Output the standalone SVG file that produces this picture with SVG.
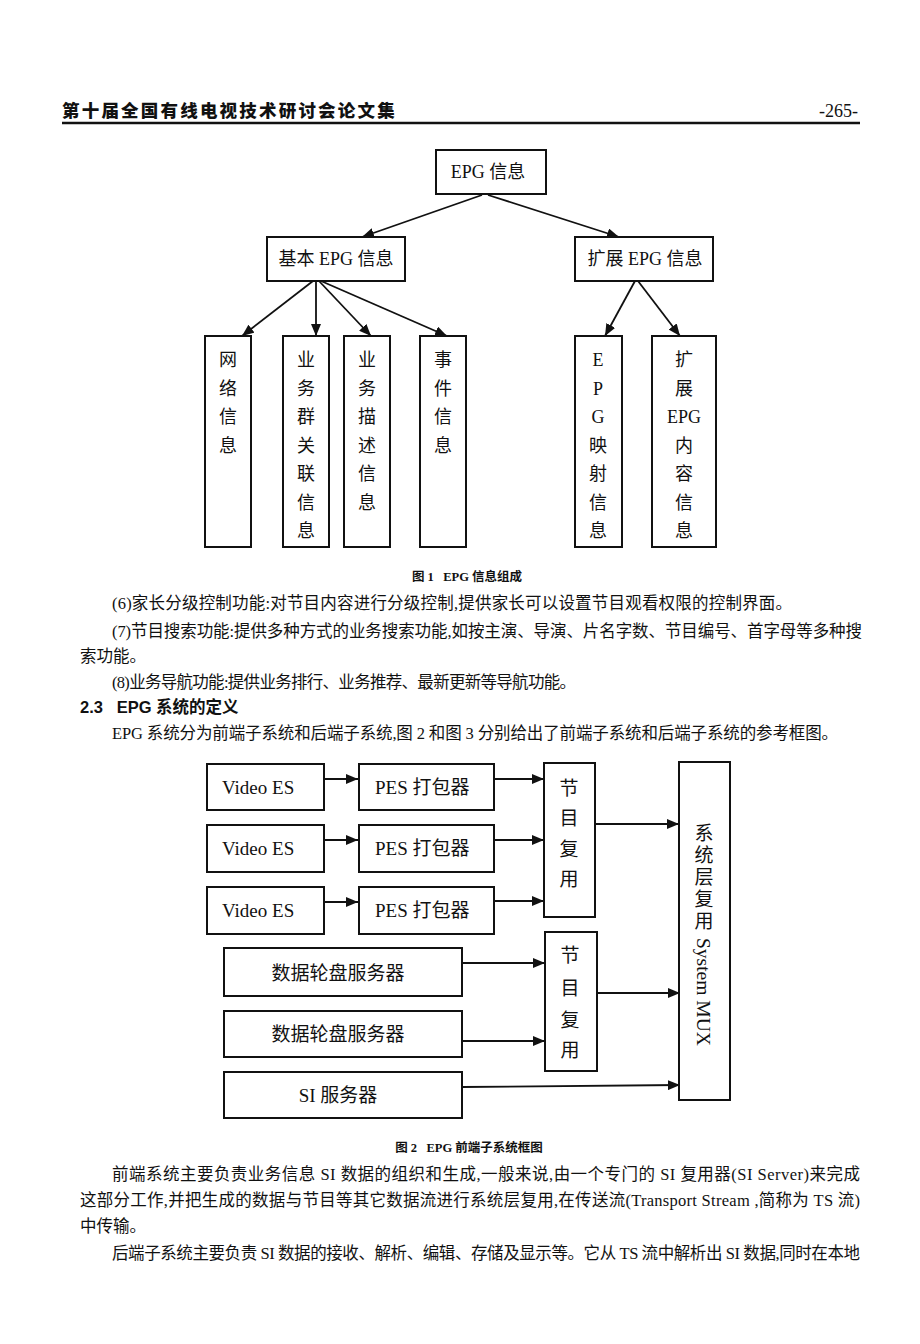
<svg xmlns="http://www.w3.org/2000/svg" width="920" height="1344" viewBox="0 0 920 1344">
<defs>
<marker id="ah" viewBox="0 0 12 10" refX="12" refY="5" markerWidth="12" markerHeight="10" orient="auto" markerUnits="userSpaceOnUse">
<path d="M0,0 L12,5 L0,10 z" fill="#111"/>
</marker>
</defs>
<style>
.box{fill:#fff;stroke:#111;stroke-width:2}
.t{font-family:"Liberation Serif","Noto Sans CJK SC",serif;font-size:18px;fill:#111}
.t2{font-family:"Liberation Serif","Noto Sans CJK SC",serif;font-size:19px;fill:#111}
.v{font-family:"Liberation Serif","Noto Sans CJK SC",serif;font-size:18px;fill:#111;text-anchor:middle;dominant-baseline:central}
.body{font-family:"Liberation Serif","Noto Sans CJK SC",serif;font-size:16.5px;fill:#111;dominant-baseline:central}
.cap{font-family:"Liberation Serif","Noto Sans CJK SC",serif;font-size:12.5px;font-weight:bold;fill:#111;text-anchor:middle;dominant-baseline:central}
.edge{stroke:#111;stroke-width:1.8;fill:none;marker-end:url(#ah)}
.mid{text-anchor:middle;dominant-baseline:central}
</style>
<rect width="920" height="1344" fill="#fff"/>

<g id="header">
<text x="62" y="117" style="font-family:'Noto Sans CJK SC',sans-serif;font-size:17.5px;font-weight:900;letter-spacing:2.2px;fill:#111">第十届全国有线电视技术研讨会论文集</text>
<text x="858" y="117" text-anchor="end" class="t">-265-</text>
<line x1="62" y1="123" x2="860" y2="123" stroke="#111" stroke-width="2.5"/>
</g>

<g id="fig1-connectors">
<path class="edge" d="M482,195 L362,237"/>
<path class="edge" d="M488,195 L619,237"/>
<path class="edge" d="M313,281 L242,336"/>
<path class="edge" d="M316,281 L316,336"/>
<path class="edge" d="M319,281 L371,336"/>
<path class="edge" d="M321,281 L447,336"/>
<path class="edge" d="M635,281 L605,336"/>
<path class="edge" d="M638,281 L680,336"/>
</g>

<g id="n-epg">
<rect class="box" x="436" y="150" width="110" height="44"/>
<text class="t mid" x="488" y="172">EPG 信息</text>
</g>
<g id="n-basic">
<rect class="box" x="267" y="237" width="138" height="44"/>
<text class="t mid" x="336" y="259">基本 EPG 信息</text>
</g>
<g id="n-ext">
<rect class="box" x="575" y="237" width="138" height="44"/>
<text class="t mid" x="645" y="259">扩展 EPG 信息</text>
</g>
<g id="n-net">
<rect class="box" x="205" y="336" width="46" height="211"/>
<text class="v" x="228" y="360">网</text><text class="v" x="228" y="388.5">络</text><text class="v" x="228" y="417">信</text><text class="v" x="228" y="445.5">息</text>
</g>
<g id="n-bouquet">
<rect class="box" x="283" y="336" width="46" height="211"/>
<text class="v" x="306" y="360">业</text><text class="v" x="306" y="388.5">务</text><text class="v" x="306" y="417">群</text><text class="v" x="306" y="445.5">关</text><text class="v" x="306" y="474">联</text><text class="v" x="306" y="502.5">信</text><text class="v" x="306" y="531">息</text>
</g>
<g id="n-service">
<rect class="box" x="344" y="336" width="46" height="211"/>
<text class="v" x="367" y="360">业</text><text class="v" x="367" y="388.5">务</text><text class="v" x="367" y="417">描</text><text class="v" x="367" y="445.5">述</text><text class="v" x="367" y="474">信</text><text class="v" x="367" y="502.5">息</text>
</g>
<g id="n-event">
<rect class="box" x="420" y="336" width="46" height="211"/>
<text class="v" x="443" y="360">事</text><text class="v" x="443" y="388.5">件</text><text class="v" x="443" y="417">信</text><text class="v" x="443" y="445.5">息</text>
</g>
<g id="n-map">
<rect class="box" x="575" y="336" width="47" height="211"/>
<text class="v" x="598" y="360">E</text><text class="v" x="598" y="388.5">P</text><text class="v" x="598" y="417">G</text><text class="v" x="598" y="445.5">映</text><text class="v" x="598" y="474">射</text><text class="v" x="598" y="502.5">信</text><text class="v" x="598" y="531">息</text>
</g>
<g id="n-extcontent">
<rect class="box" x="652" y="336" width="64" height="211"/>
<text class="v" x="684" y="360">扩</text><text class="v" x="684" y="388.5">展</text><text class="v" x="684" y="417">EPG</text><text class="v" x="684" y="445.5">内</text><text class="v" x="684" y="474">容</text><text class="v" x="684" y="502.5">信</text><text class="v" x="684" y="531">息</text>
</g>

<text class="cap" x="467" y="577" xml:space="preserve">图 1   EPG 信息组成</text>

<g id="body1">
<text class="body" x="112" y="603" textLength="680" lengthAdjust="spacing">(6)家长分级控制功能:对节目内容进行分级控制,提供家长可以设置节目观看权限的控制界面。</text>
<text class="body" x="112" y="631" textLength="750" lengthAdjust="spacing">(7)节目搜索功能:提供多种方式的业务搜索功能,如按主演、导演、片名字数、节目编号、首字母等多种搜</text>
<text class="body" x="80" y="656">索功能。</text>
<text class="body" x="112" y="682" textLength="464" lengthAdjust="spacing">(8)业务导航功能:提供业务排行、业务推荐、最新更新等导航功能。</text>
<text x="80" y="707" xml:space="preserve" style="font-family:'Liberation Sans','Noto Sans CJK SC',sans-serif;font-size:16.5px;font-weight:bold;fill:#111;dominant-baseline:central">2.3   EPG 系统的定义</text>
<text class="body" x="112" y="733" textLength="726" lengthAdjust="spacing">EPG 系统分为前端子系统和后端子系统,图 2 和图 3 分别给出了前端子系统和后端子系统的参考框图。</text>
</g>

<g id="fig2-connectors">
<path class="edge" d="M324,779 H358"/>
<path class="edge" d="M324,840 H358"/>
<path class="edge" d="M324,902 H358"/>
<path class="edge" d="M494,779 H544"/>
<path class="edge" d="M494,840 H544"/>
<path class="edge" d="M494,901 H544"/>
<path class="edge" d="M595,824 H679"/>
<path class="edge" d="M462,963 H545"/>
<path class="edge" d="M462,1041 H545"/>
<path class="edge" d="M597,993 H680"/>
<path class="edge" d="M462,1087 L680,1085"/>
</g>

<g id="n-ves1"><rect class="box" x="207" y="764" width="117" height="46"/><text class="t2" x="222" y="794">Video ES</text></g>
<g id="n-ves2"><rect class="box" x="207" y="825" width="117" height="47"/><text class="t2" x="222" y="855">Video ES</text></g>
<g id="n-ves3"><rect class="box" x="207" y="887" width="117" height="47"/><text class="t2" x="222" y="917">Video ES</text></g>
<g id="n-pes1"><rect class="box" x="359" y="764" width="135" height="46"/><text class="t2" x="375" y="794">PES 打包器</text></g>
<g id="n-pes2"><rect class="box" x="359" y="825" width="135" height="47"/><text class="t2" x="375" y="855">PES 打包器</text></g>
<g id="n-pes3"><rect class="box" x="359" y="887" width="135" height="47"/><text class="t2" x="375" y="917">PES 打包器</text></g>
<g id="n-pmux1">
<rect class="box" x="544" y="763" width="51" height="154"/>
<text class="v" x="569" y="788" style="font-size:19px">节</text><text class="v" x="569" y="818" style="font-size:19px">目</text><text class="v" x="569" y="849" style="font-size:19px">复</text><text class="v" x="569" y="879" style="font-size:19px">用</text>
</g>
<g id="n-dc1"><rect class="box" x="224" y="948" width="238" height="48"/><text class="t2 mid" x="338" y="973">数据轮盘服务器</text></g>
<g id="n-dc2"><rect class="box" x="224" y="1011" width="238" height="46"/><text class="t2 mid" x="338" y="1034">数据轮盘服务器</text></g>
<g id="n-si"><rect class="box" x="224" y="1072" width="238" height="46"/><text class="t2 mid" x="338" y="1095">SI 服务器</text></g>
<g id="n-pmux2">
<rect class="box" x="545" y="932" width="52" height="139"/>
<text class="v" x="570" y="955" style="font-size:19px">节</text><text class="v" x="570" y="988" style="font-size:19px">目</text><text class="v" x="570" y="1020" style="font-size:19px">复</text><text class="v" x="570" y="1050" style="font-size:19px">用</text>
</g>
<g id="n-sysmux">
<rect class="box" x="679" y="762" width="51" height="338"/>
<text class="v" x="704" y="833" style="font-size:19px">系</text><text class="v" x="704" y="855" style="font-size:19px">统</text><text class="v" x="704" y="877" style="font-size:19px">层</text><text class="v" x="704" y="899" style="font-size:19px">复</text><text class="v" x="704" y="921" style="font-size:19px">用</text>
<text transform="translate(703,938) rotate(90)" style="font-family:'Liberation Serif',serif;font-size:19.5px;fill:#111;dominant-baseline:central">System MUX</text>
</g>

<text class="cap" x="469" y="1148" xml:space="preserve">图 2   EPG 前端子系统框图</text>

<g id="body2">
<text class="body" x="112" y="1174" textLength="748" lengthAdjust="spacing">前端系统主要负责业务信息 SI 数据的组织和生成,一般来说,由一个专门的 SI 复用器(SI  Server)来完成</text>
<text class="body" x="80" y="1200" textLength="780" lengthAdjust="spacing">这部分工作,并把生成的数据与节目等其它数据流进行系统层复用,在传送流(Transport Stream ,简称为 TS 流)</text>
<text class="body" x="80" y="1226">中传输。</text>
<text class="body" x="112" y="1253" textLength="748" lengthAdjust="spacing">后端子系统主要负责 SI 数据的接收、解析、编辑、存储及显示等。它从 TS 流中解析出 SI 数据,同时在本地</text>
</g>
</svg>
